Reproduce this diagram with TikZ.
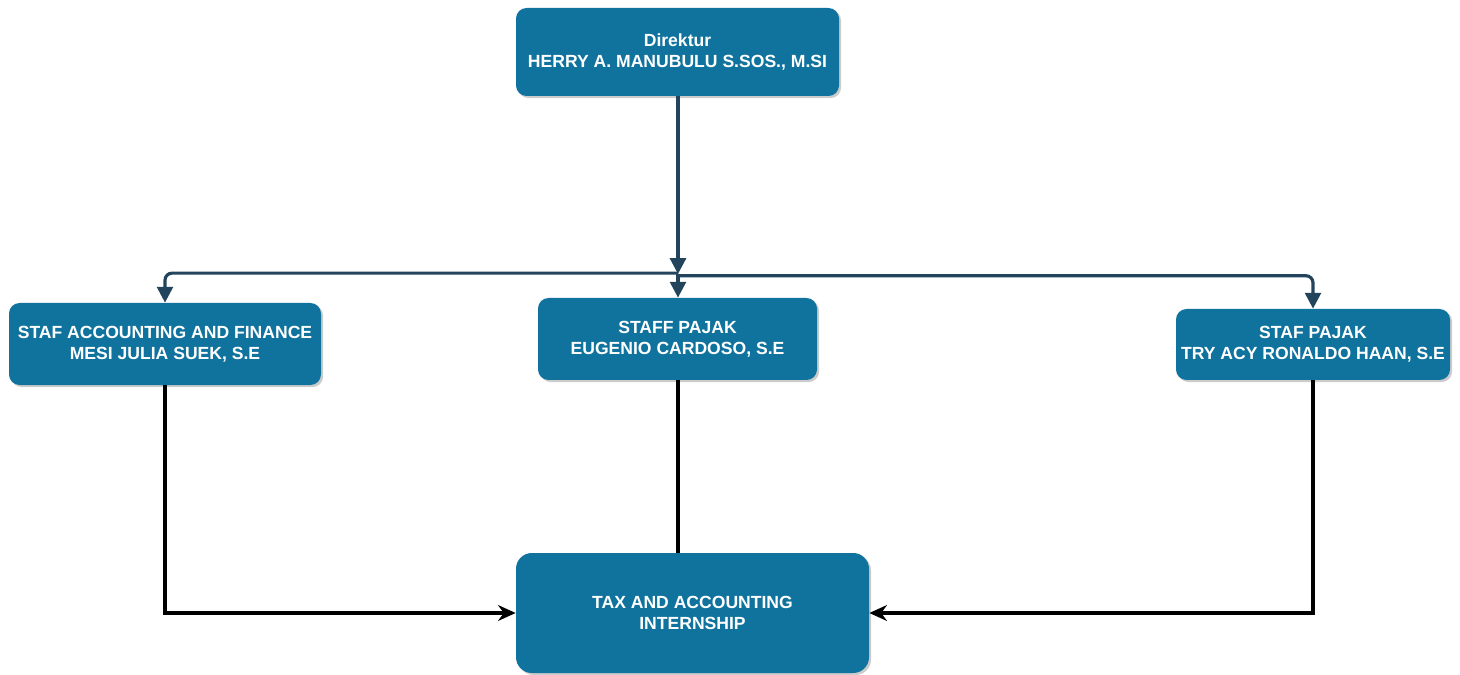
\documentclass[tikz,border=0pt]{standalone}
\usepackage{fontspec}
\setmainfont{Liberation Sans}
\usetikzlibrary{arrows.meta,shadows}

\definecolor{boxblue}{HTML}{10739E}
\definecolor{linkblue}{HTML}{23445D}

\tikzset{
  orgbox/.style={rounded corners=6pt,fill=boxblue,text=white,align=center,
    font=\fontsize{10}{12}\selectfont\bfseries,inner sep=2pt,
    drop shadow={shadow xshift=1.2pt,shadow yshift=-1.2pt,fill=black!40,opacity=0.5}},
  toplink/.style={draw=linkblue,line width=1.8pt,rounded corners=4pt,-{Triangle[length=9pt,width=9pt]}},
  botlink/.style={draw=black,line width=1.8pt,-{Stealth[length=10pt,width=9pt]}}
}

\begin{document}
\begin{tikzpicture}[x=0.02cm,y=-0.02cm]
  \useasboundingbox (0,0) rectangle (1460,675);

  % Boxes
  \node[orgbox,minimum width=323*0.02cm,minimum height=88*0.02cm] (direktur) at (677.5,52)
    {Direktur\\HERRY A. MANUBULU S.SOS., M.SI};
  \node[orgbox,minimum width=312*0.02cm,minimum height=82*0.02cm] (stafaccount) at (165,344)
    {STAF ACCOUNTING AND FINANCE\\MESI JULIA SUEK, S.E};
  \node[orgbox,minimum width=279*0.02cm,minimum height=82*0.02cm] (staffpajak) at (677.5,339)
    {STAFF PAJAK\\EUGENIO CARDOSO, S.E};
  \node[orgbox,minimum width=274*0.02cm,minimum height=71*0.02cm] (stafpajak) at (1313,344.5)
    {STAF PAJAK\\TRY ACY RONALDO HAAN, S.E};
  \node[orgbox,rounded corners=9pt,minimum width=353*0.02cm,minimum height=120*0.02cm] (internship) at (692.5,613)
    {TAX AND ACCOUNTING\\INTERNSHIP};

  % Links from the Direktur
  \coordinate (split) at (678,274);
  \draw[toplink] (direktur.south -| split) -- (split);
  \draw[toplink] ([yshift=0.5pt]split) -| (stafaccount);
  \draw[toplink] (split) -- (split |- staffpajak.north);
  \draw[toplink] ([yshift=-1pt]split) -| (stafpajak);

  % Links to the internship
  \draw[botlink] (stafaccount) |- (internship);
  \draw[line width=1.8pt] (staffpajak.south -| split) -- (split |- internship.north);
  \draw[botlink] (stafpajak) |- (internship);
\end{tikzpicture}
\end{document}
